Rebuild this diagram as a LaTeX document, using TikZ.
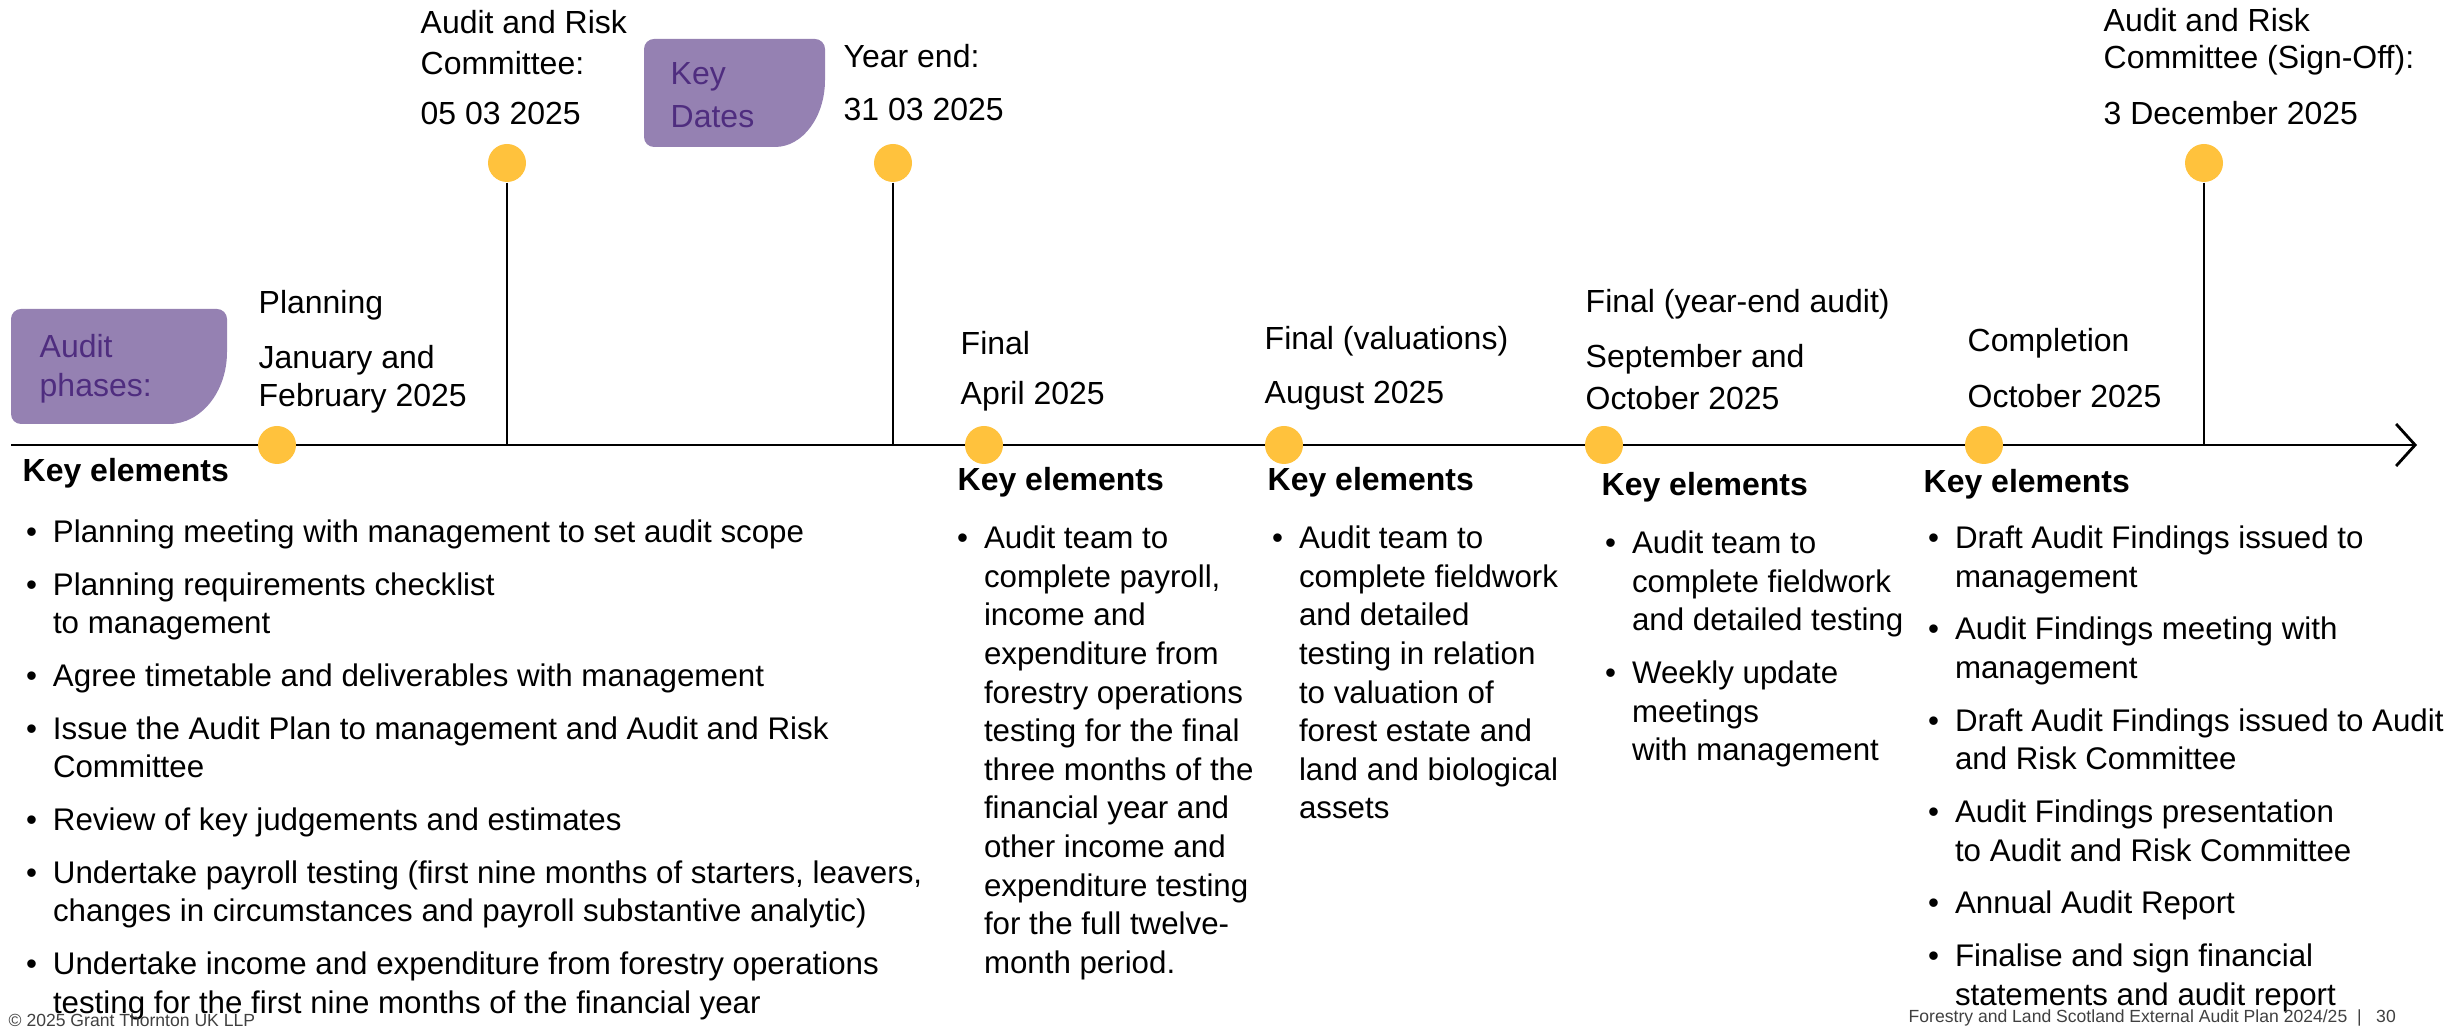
\documentclass[tikz,border=0pt]{standalone}
\usepackage{fontspec}
\setmainfont{Liberation Sans}
\usetikzlibrary{arrows.meta}
\definecolor{gtpurple}{HTML}{4F2D7F}
\definecolor{tagfill}{HTML}{9581B2}
\definecolor{dotyellow}{HTML}{FFC23D}
\newcommand{\bul}{\makebox[2.7mm][l]{\textbullet}}
\newcommand{\ind}{\hspace*{2.7mm}}
\begin{document}
\begin{tikzpicture}[
  txt/.style={anchor=west,inner sep=0,font=\fontsize{9.1}{11}\selectfont},
  keyel/.style={txt,font=\fontsize{9.1}{11}\selectfont\bfseries},
  blist/.style={anchor=north west,inner sep=0,align=left,font=\fontsize{8.9}{11}\selectfont},
  tag/.style={txt,text=gtpurple},
  dot/.style={circle,fill=dotyellow,minimum size=0.38cm,inner sep=0},
  foot/.style={anchor=south west,inner sep=0,font=\fontsize{5}{6}\selectfont,text=black!75}]
\useasboundingbox (0,0) rectangle (24.56,10.28);
% tags
\fill [tagfill](0.21,7.19) -- (2.17,7.19) arc[start angle=90,end angle=0,radius=0.1] -- (2.27,6.76) arc[start angle=0,end angle=-90,x radius=0.58,y radius=0.72] -- (0.21,6.04) arc[start angle=270,end angle=180,radius=0.1] -- (0.11,7.09) arc[start angle=180,end angle=90,radius=0.1] -- cycle;
\fill [tagfill](6.54,9.89) -- (8.15,9.89) arc[start angle=90,end angle=0,radius=0.1] -- (8.25,9.48) arc[start angle=0,end angle=-90,x radius=0.5,y radius=0.67] -- (6.54,8.81) arc[start angle=270,end angle=180,radius=0.1] -- (6.44,9.79) arc[start angle=180,end angle=90,radius=0.1] -- cycle;
\node[tag] (ph1) at (0.39,6.82) {Audit};
\node[tag] (ph2) at (0.39,6.40) {phases:};
\node[tag] (kdt1) at (6.70,9.51) {Key};
\node[tag] (kdt2) at (6.70,9.11) {Dates};
% timeline
\coordinate (tl0) at (0.11,5.83);
\coordinate (tl1) at (24.17,5.83);
\draw [line width=0.8pt,-{Straight Barb[length=1.9mm,width=4.2mm]}](tl0) -- (tl1);
% key dates
\node[dot] (kd1) at (5.07,8.65) {};
\node[dot] (kd2) at (8.93,8.65) {};
\node[dot] (kd3) at (22.04,8.65) {};
\draw [line width=0.8pt](kd1) -- (kd1 |- tl0);
\draw [line width=0.8pt](kd2) -- (kd2 |- tl0);
\draw [line width=0.8pt](kd3) -- (kd3 |- tl0);
\node[txt] (arc1a) at (4.20,10.06) {Audit and Risk};
\node[txt] (arc1b) at (4.20,9.65) {Committee:};
\node[txt] (arc1c) at (4.20,9.14) {05 03 2025};
\node[txt] (ye1) at (8.43,9.72) {Year end:};
\node[txt] (ye2) at (8.43,9.18) {31 03 2025};
\node[txt] (arc2a) at (21.03,10.08) {Audit and Risk};
\node[txt] (arc2b) at (21.03,9.68) {Committee (Sign-Off):};
\node[txt] (arc2c) at (21.03,9.15) {3 December 2025};
% phases
\node[dot] (p1) at (2.77,5.83) {};
\node[dot] (p2) at (9.84,5.83) {};
\node[dot] (p3) at (12.84,5.83) {};
\node[dot] (p4) at (16.04,5.83) {};
\node[dot] (p5) at (19.84,5.83) {};
\node[txt] (p1a) at (2.58,7.23) {Planning};
\node[txt] (p1b) at (2.58,6.68) {January and};
\node[txt] (p1c) at (2.58,6.30) {February 2025};
\node[txt] (p2a) at (9.60,6.85) {Final};
\node[txt] (p2b) at (9.60,6.32) {April 2025};
\node[txt] (p3a) at (12.64,6.87) {Final (valuations)};
\node[txt] (p3b) at (12.64,6.32) {August 2025};
\node[txt] (p4a) at (15.85,7.24) {Final (year-end audit)};
\node[txt] (p4b) at (15.85,6.69) {September and};
\node[txt] (p4c) at (15.85,6.30) {October 2025};
\node[txt] (p5a) at (19.67,6.85) {Completion};
\node[txt] (p5b) at (19.67,6.32) {October 2025};
% key elements
\node[keyel] (ke1) at (0.22,5.55) {Key elements};
\node[keyel] (ke2) at (9.57,5.46) {Key elements};
\node[keyel] (ke3) at (12.67,5.46) {Key elements};
\node[keyel] (ke4) at (16.01,5.41) {Key elements};
\node[keyel] (ke5) at (19.23,5.44) {Key elements};
\node[blist] (el1) at (0.253,5.09) {\bul Planning meeting with management to set audit scope\\[4pt]
\bul Planning requirements checklist\\
\ind to management\\[4pt]
\bul Agree timetable and deliverables with management\\[4pt]
\bul Issue the Audit Plan to management and Audit and Risk\\
\ind Committee\\[4pt]
\bul Review of key judgements and estimates\\[4pt]
\bul Undertake payroll testing (first nine months of starters, leavers,\\
\ind changes in circumstances and payroll substantive analytic)\\[4pt]
\bul Undertake income and expenditure from forestry operations\\
\ind testing for the first nine months of the financial year};
\node[blist] (el2) at (9.563,5.03) {\bul Audit team to\\
\ind complete payroll,\\
\ind income and\\
\ind expenditure from\\
\ind forestry operations\\
\ind testing for the final\\
\ind three months of the\\
\ind financial year and\\
\ind other income and\\
\ind expenditure testing\\
\ind for the full twelve-\\
\ind month period.};
\node[blist] (el3) at (12.713,5.03) {\bul Audit team to\\
\ind complete fieldwork\\
\ind and detailed\\
\ind testing in relation\\
\ind to valuation of\\
\ind forest estate and\\
\ind land and biological\\
\ind assets};
\node[blist] (el4) at (16.043,4.98) {\bul Audit team to\\
\ind complete fieldwork\\
\ind and detailed testing\\[4pt]
\bul Weekly update\\
\ind meetings\\
\ind with management};
\node[blist] (el5) at (19.273,5.03) {\bul Draft Audit Findings issued to\\
\ind management\\[4pt]
\bul Audit Findings meeting with\\
\ind management\\[4pt]
\bul Draft Audit Findings issued to Audit\\
\ind and Risk Committee\\[4pt]
\bul Audit Findings presentation\\
\ind to Audit and Risk Committee\\[4pt]
\bul Annual Audit Report\\[4pt]
\bul Finalise and sign financial\\
\ind statements and audit report};
% footer
\node[foot] (cpy) at (0.08,0.01) {© 2025 Grant Thornton UK LLP};
\node[foot] (doc) at (19.08,0.01) {Forestry and Land Scotland External Audit Plan 2024/25~~|~~~30};
\end{tikzpicture}
\end{document}
